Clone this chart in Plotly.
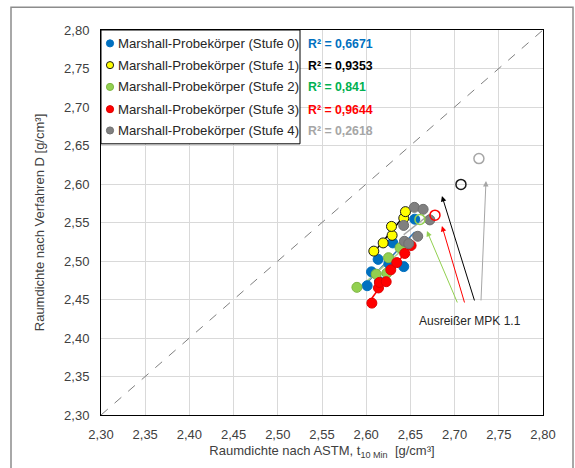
import numpy as np
import plotly.graph_objects as go

# ---------------- data ----------------
series_names = [
    "Marshall-Probekörper (Stufe 0)",
    "Marshall-Probekörper (Stufe 1)",
    "Marshall-Probekörper (Stufe 2)",
    "Marshall-Probekörper (Stufe 3)",
    "Marshall-Probekörper (Stufe 4)",
]
r2_labels = ["R² = 0,6671", "R² = 0,9353", "R² = 0,841", "R² = 0,9644", "R² = 0,2618"]

x_s0 = [2.6011, 2.6060, 2.6150, 2.6135, 2.6256, 2.6425, 2.6301, 2.6549]
y_s0 = [2.4679, 2.4859, 2.4731, 2.5021, 2.4966, 2.4927, 2.5235, 2.5543]

x_s1 = [2.6086, 2.6192, 2.6293, 2.6286, 2.6425, 2.6444]
y_s1 = [2.5128, 2.5235, 2.5333, 2.5449, 2.5556, 2.5641]

x_s2 = [2.5895, 2.6113, 2.6233, 2.6252, 2.6383]
y_s2 = [2.4658, 2.4829, 2.4842, 2.5043, 2.5171]

x_s3 = [2.6064, 2.6139, 2.6150, 2.6226, 2.6278, 2.6346, 2.6436, 2.6508]
y_s3 = [2.4453, 2.4650, 2.4722, 2.4731, 2.4885, 2.4979, 2.5098, 2.5201]

x_s4 = [2.6424, 2.6432, 2.6481, 2.6545, 2.6583, 2.6644, 2.6720]
y_s4 = [2.5462, 2.5256, 2.5226, 2.5697, 2.5321, 2.5671, 2.5534]

# outliers "Ausreißer MPK 1.1" (Stufe 1, 2, 3, 4)
out_x = [2.7072, 2.6608, 2.6778, 2.7275]
out_y = [2.5995, 2.5540, 2.5595, 2.6330]

x_range = [2.30, 2.80]
y_range = [2.30, 2.80]

# ---------------- styles ----------------
fill_cols = ["#0070C0", "#FFFF00", "#92D050", "#FF0000", "#808080"]
edge_cols = ["#0070C0", "#1a1a1a", "#7DB542", "#E00000", "#6F6F6F"]
trend_cols = ["#2E75B6", "#000000", "#A9D18E", "#FF0000", "#A6A6A6"]
r2_cols = ["#0070C0", "#000000", "#00B050", "#FF0000", "#A6A6A6"]
out_cols = ["#1a1a1a", "#92D050", "#FF0000", "#A6A6A6"]
arrow_cols = ["#000000", "#92D050", "#FF0000", "#A6A6A6"]

xs = [x_s0, x_s1, x_s2, x_s3, x_s4]
ys = [y_s0, y_s1, y_s2, y_s3, y_s4]

FONT = "Liberation Sans, Arial, sans-serif"

fig = go.Figure()

# 1:1 line
fig.add_trace(go.Scatter(x=x_range, y=y_range, mode="lines",
                         line=dict(color="#7F7F7F", width=1, dash="dash"),
                         showlegend=False, hoverinfo="skip"))

# trend lines
for i in range(5):
    xa = np.array(xs[i]); ya = np.array(ys[i])
    k, d = np.polyfit(xa, ya, 1)
    xl = np.array([xa.min(), xa.max()])
    fig.add_trace(go.Scatter(x=xl, y=k * xl + d, mode="lines",
                             line=dict(color=trend_cols[i], width=1.5),
                             showlegend=False, hoverinfo="skip"))

# points
for i in range(5):
    fig.add_trace(go.Scatter(x=xs[i], y=ys[i], mode="markers", name=series_names[i],
                             marker=dict(size=10, color=fill_cols[i],
                                         line=dict(color=edge_cols[i], width=1)),
                             showlegend=False))

# outliers (hollow)
fig.add_trace(go.Scatter(x=out_x, y=out_y, mode="markers",
                         marker=dict(size=10, color="rgba(255,255,255,0)",
                                     line=dict(color=out_cols, width=1.5)),
                         showlegend=False))

# plot-area geometry (px)
W, H = 575, 468
ML, MR, MT, MB = 101, 32, 30, 49
PW, PH = W - ML - MR, H - MT - MB


def px(xp):
    return (xp - ML) / PW


def py(yp):
    return (H - MB - yp) / PH


shapes = []
annotations = []

# outer frame
shapes.append(dict(type="rect", xref="paper", yref="paper",
                   x0=px(11), x1=px(573), y0=py(475), y1=py(7),
                   line=dict(color="#8C8C8C", width=1.5), layer="above"))

# manual legend box
shapes.append(dict(type="rect", xref="paper", yref="paper",
                   x0=0, x1=px(300), y0=py(145), y1=1,
                   line=dict(color="#000000", width=1), fillcolor="white", layer="above"))

rows = [43.5, 65.5, 87.5, 110, 131.5]
r = 3.6
for i in range(5):
    shapes.append(dict(type="circle", xref="paper", yref="paper",
                       x0=px(110 - r), x1=px(110 + r), y0=py(rows[i] + r), y1=py(rows[i] - r),
                       fillcolor=fill_cols[i], line=dict(color=edge_cols[i], width=1),
                       layer="above"))
    annotations.append(dict(xref="paper", yref="paper", x=px(116), y=py(rows[i]),
                            xanchor="left", yanchor="middle", showarrow=False,
                            text=series_names[i],
                            font=dict(family=FONT, size=13.2, color="#262626")))
    annotations.append(dict(xref="paper", yref="paper", x=px(306), y=py(rows[i] + 0.5),
                            xanchor="left", yanchor="middle", showarrow=False,
                            text="<b>" + r2_labels[i] + "</b>",
                            font=dict(family=FONT, size=12.3, color=r2_cols[i])))

# arrows to outliers
heads = [(2.6857, 2.5844), (2.6687, 2.5390), (2.6857, 2.5455), (2.7355, 2.6039)]
tails = [(2.7230, 2.4468), (2.7038, 2.4442), (2.7117, 2.4442), (2.7298, 2.4468)]
for (hx, hy), (tx, ty), c in zip(heads, tails, arrow_cols):
    annotations.append(dict(x=hx, y=hy, ax=tx, ay=ty, xref="x", yref="y",
                            axref="x", ayref="y", text="", showarrow=True,
                            arrowhead=2, arrowsize=1.1, arrowwidth=1, arrowcolor=c))

annotations.append(dict(x=2.7174, y=2.4215, xref="x", yref="y", showarrow=False,
                        text="Ausreißer MPK 1.1",
                        font=dict(family=FONT, size=12, color="#262626")))

axis_common = dict(showgrid=True, gridcolor="#D9D9D9", gridwidth=1,
                   showline=True, linecolor="#000000", linewidth=1, mirror=True,
                   zeroline=False, ticks="", dtick=0.05, tickformat=".2f",
                   tickfont=dict(family=FONT, size=13, color="#404040"))

fig.update_layout(
    width=W, height=H,
    margin=dict(l=ML, r=MR, t=MT, b=MB),
    paper_bgcolor="white", plot_bgcolor="white",
    separators=",.",
    showlegend=False,
    shapes=shapes,
    annotations=annotations,
    xaxis=dict(range=x_range, ticklabelstandoff=7,
               title=dict(text="Raumdichte nach ASTM, t<sub>10 Min</sub>&nbsp; [g/cm³]",
                          font=dict(family=FONT, size=13, color="#404040"), standoff=5),
               **axis_common),
    yaxis=dict(range=y_range, ticklabelstandoff=8,
               title=dict(text="Raumdichte nach Verfahren D [g/cm³]",
                          font=dict(family=FONT, size=13, color="#404040"), standoff=16),
               **axis_common),
)

fig.write_html("out.html")
